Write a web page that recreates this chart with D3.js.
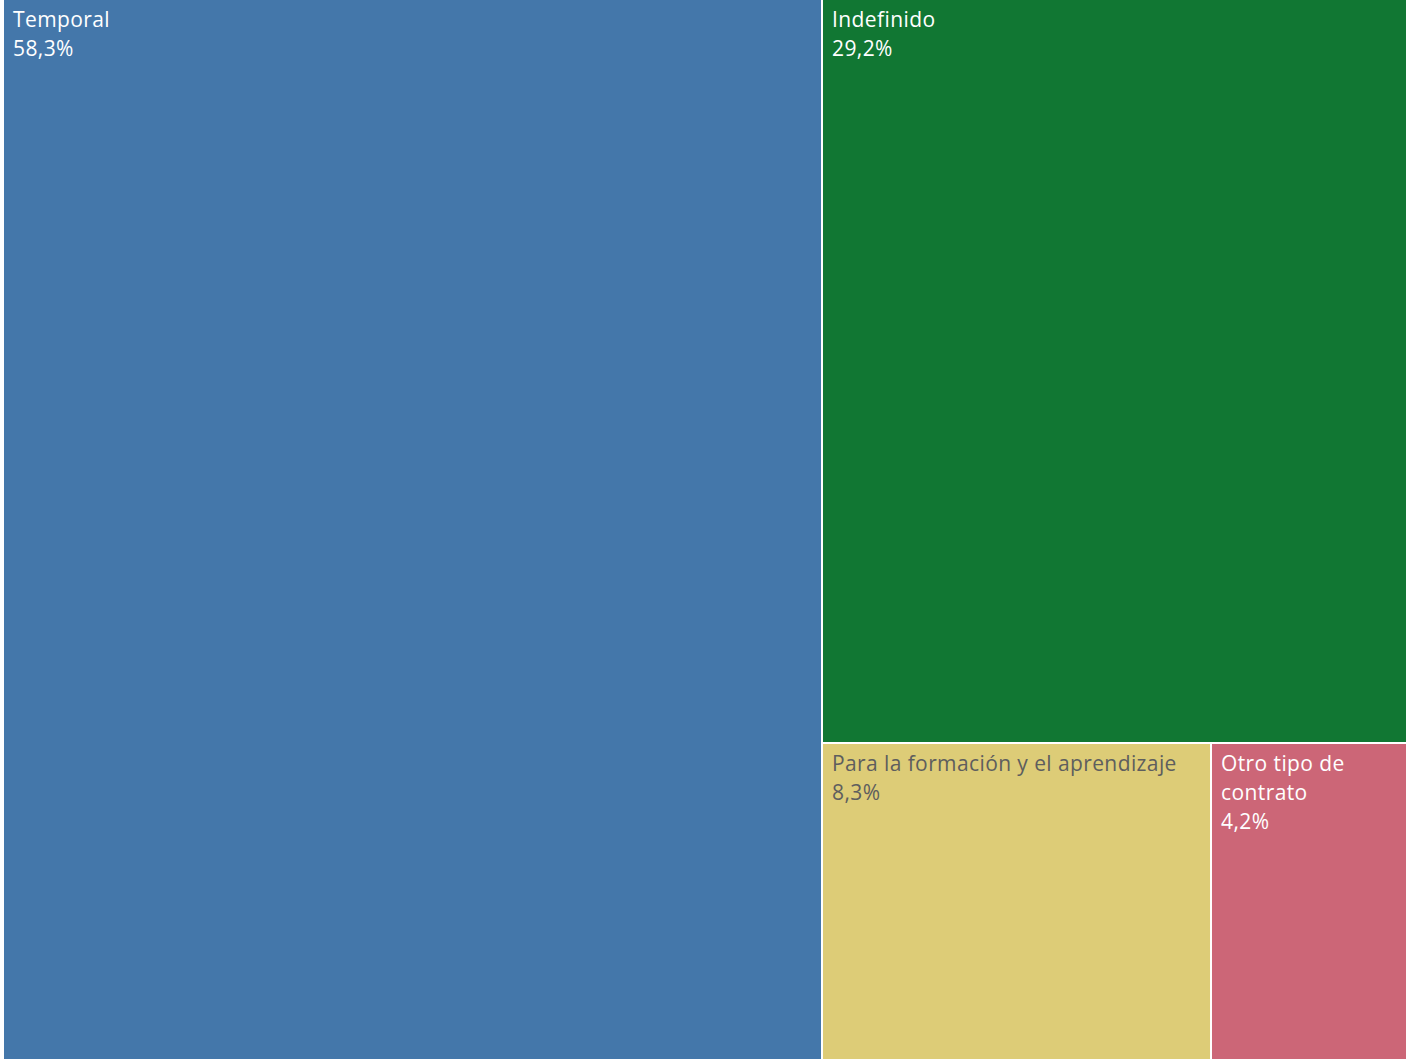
<!DOCTYPE html>
<html lang="es">
<head>
    <meta charset="UTF-8">
    <title>Tipo de contrato</title>
    <script src="https://cdn.jsdelivr.net/npm/d3@7"></script>
    <style>
        html, body { margin: 0; padding: 0; background: #fff; }
        .lbl { font-family: "Open Sans", sans-serif; font-size: 21px; letter-spacing: 0.4px; }
    </style>
</head>
<body>
<svg id="chart" width="1406" height="1059"></svg>
<script>
    // datos
    var categorias = ['Temporal', 'Indefinido', 'Para la formación y el aprendizaje', 'Otro tipo de contrato']
    var valores = [58.3, 29.2, 8.3, 4.2]
    var colores = ['#4477AA', '#117733', '#DDCC77', '#CC6677']
    var colorTexto = ['#ffffff', '#ffffff', '#5e5e5e', '#ffffff']

    var width = 1406, height = 1059
    var offX = 4, offY = 0   // pequeño margen blanco a la izquierda

    var root = d3.hierarchy({
        children: categorias.map(function (c, i) { return {name: c, value: valores[i], idx: i} })
    }).sum(function (d) { return d.value || 0 })
      .sort(function (a, b) { return b.value - a.value })

    d3.treemap()
        .tile(d3.treemapSquarify)
        .size([width - offX + 1, height + 1])
        .paddingInner(2)
        .round(true)(root)

    var svg = d3.select('#chart')
    var g0 = svg.append('g').attr('transform', 'translate(' + offX + ',' + offY + ')')

    var cell = g0.selectAll('g.cell')
        .data(root.leaves())
        .join('g')
        .attr('class', 'cell')
        .attr('transform', function (d) { return 'translate(' + d.x0 + ',' + d.y0 + ')' })

    cell.append('rect')
        .attr('width', function (d) { return d.x1 - d.x0 })
        .attr('height', function (d) { return d.y1 - d.y0 })
        .style('fill', function (d) { return colores[d.data.idx] })

    // etiquetas (con ajuste de línea)
    cell.each(function (d) {
        var g = d3.select(this)
        var maxW = (d.x1 - d.x0) - 18
        var txt = g.append('text')
            .attr('class', 'lbl')
            .style('fill', colorTexto[d.data.idx])
        var words = d.data.name.split(' ')
        var lines = [], line = ''
        var probe = txt.append('tspan')
        words.forEach(function (w) {
            var test = line ? line + ' ' + w : w
            probe.text(test)
            if (probe.node().getComputedTextLength() > maxW && line) {
                lines.push(line)
                line = w
            } else {
                line = test
            }
        })
        lines.push(line)
        probe.remove()
        lines.push(d3.format('.1f')(d.data.value).replace('.', ',') + '%')
        lines.forEach(function (l, i) {
            txt.append('tspan')
                .attr('x', 9)
                .attr('y', 27 + i * 29)
                .text(l)
        })
    })
</script>
</body>
</html>
